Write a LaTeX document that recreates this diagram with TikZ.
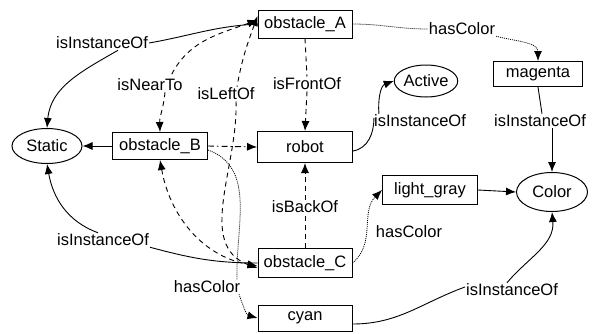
\documentclass[tikz,border=0pt]{standalone}
\usepackage{fontspec}
\setmainfont{Liberation Sans}
\usetikzlibrary{shapes.geometric,arrows.meta}
\begin{document}
\begin{tikzpicture}[x=1pt,y=-1pt,
  every node/.style={font=\fontsize{16.5}{19}\selectfont},
  box/.style={draw,line width=1pt,inner sep=0pt,minimum width=94pt,minimum height=28pt},
  ell/.style={draw,ellipse,line width=1pt,inner sep=0pt},
  lbl/.style={inner sep=1pt,fill=white},
  edge/.style={line width=0.9pt},
  tip/.style={-{Latex[length=10pt,width=8pt]}},
  bitip/.style={{Latex[length=10pt,width=8pt]}-{Latex[length=10pt,width=8pt]}},
  rtip/.style={{Latex[length=10pt,width=8pt]}-},
  dashedge/.style={edge,dash pattern=on 5pt off 4pt},
  dotedge/.style={edge,line width=0.8pt,dash pattern=on 1pt off 1pt},
  dashdotedge/.style={edge,dash pattern=on 6pt off 3pt on 1.5pt off 3pt}
]
\useasboundingbox[fill=white] (0,0) rectangle (608,333);
% nodes
\node[box] (oA) at (305,24) {obstacle\_A};
\node[box,minimum width=89pt,minimum height=25pt] (mag) at (538,74) {magenta};
\node[ell,minimum width=59pt,minimum height=32pt] (act) at (426,81) {Active};
\node[box,minimum width=95pt,minimum height=31pt] (rob) at (305,147) {robot};
\node[box,minimum width=95pt,minimum height=27pt] (oB) at (160,146) {obstacle\_B};
\node[ell,minimum width=70pt,minimum height=35pt] (st) at (47,146) {Static};
\node[box,minimum height=29pt] (oC) at (305,263) {obstacle\_C};
\node[box,minimum width=95pt,minimum height=29pt] (lg) at (430,190) {light\_gray};
\node[ell,minimum width=71pt,minimum height=39pt] (col) at (552,192) {Color};
\node[box,minimum height=26pt] (cy) at (305,318) {cyan};
% labels
\node[lbl] (lA) at (102,43) {isInstanceOf};
\node[lbl] (lNear) at (150,85) {isNearTo};
\node[lbl] (lLeft) at (226,94) {isLeftOf};
\node[lbl] (lFront) at (307,84) {isFrontOf};
\node[lbl] (lRob) at (420,121) {isInstanceOf};
\node[lbl] (lMag) at (540,121) {isInstanceOf};
\node[lbl] (lAhas) at (462,29) {hasColor};
\node[lbl] (lBack) at (305,207) {isBackOf};
\node[lbl] (lCInst) at (103,240) {isInstanceOf};
\node[lbl] (lBhas) at (207,287) {hasColor};
\node[lbl] (lChas) at (409,232) {hasColor};
\node[lbl] (lCy) at (512,290) {isInstanceOf};
% edges
\draw[edge] (oA.west) to[out=183,in=10] (lA.east);
\draw[edge,tip] ([xshift=16]lA.south) to[out=210,in=85] (st.north);
\draw[dashedge,rtip] ([yshift=4]oA.west) to[out=200,in=65] ([xshift=20]lNear.north);
\draw[dashedge,tip] ([xshift=15]lNear.south) to[out=-95,in=92] (oB.north);
\draw[dashedge,rtip] ([yshift=8]oA.west) to[out=250,in=80] ([xshift=11]lLeft.north);
\draw[dashedge,tip] ([xshift=10]lLeft.south) to[out=-88,in=160] ([yshift=-5]oC.west);
\draw[dashedge,bitip] (oB.south) to[out=-80,in=170] ([yshift=-3]oC.west);
\draw[dashedge] (oA.south) -- (lFront.north);
\draw[dashedge,tip] (lFront.south) -- (rob.north);
\draw[dashdotedge,tip] (oB.east) -- (rob.west);
\draw[edge,tip] (oB.west) -- (st.east);
\draw[edge] ([yshift=-4]rob.east) to[out=10,in=-90] ([xshift=1,yshift=3]lRob.west);
\draw[edge,tip] ([xshift=6]lRob.north west) to[out=95,in=200] (act.west);
\draw[dotedge] (oA.east) to[out=0,in=180] (lAhas.west);
\draw[dotedge,tip] (lAhas.south east) to[out=-15,in=90] (mag.north);
\draw[edge] (mag.south) -- ([xshift=2]lMag.north);
\draw[edge,tip] ([xshift=12]lMag.south) -- (col.north);
\draw[dashedge] (oC.north) -- (lBack.south);
\draw[dashedge,tip] (lBack.north) -- (rob.south);
\draw[edge] (lCInst.south east) to[out=-15,in=180] (oC.west);
\draw[edge,tip] ([xshift=-5]lCInst.north) to[out=160,in=-80] (st.south);
\draw[dotedge] ([yshift=-4]oB.east) to[out=-20,in=92] ([xshift=30]lBhas.north);
\draw[dotedge,tip] ([xshift=32]lBhas.south) to[out=-70,in=165] (cy.west);
\draw[dotedge,tip] (oC.east) to[out=40,in=225] (lg.west);
\draw[edge,tip] (lg.east) -- (col.west);
\draw[edge] ([yshift=-6]cy.east) to[out=0,in=200] ([yshift=3]lCy.west);
\draw[edge,tip] ([xshift=-5]lCy.north) to[out=50,in=-85] (col.south);
\end{tikzpicture}
\end{document}
